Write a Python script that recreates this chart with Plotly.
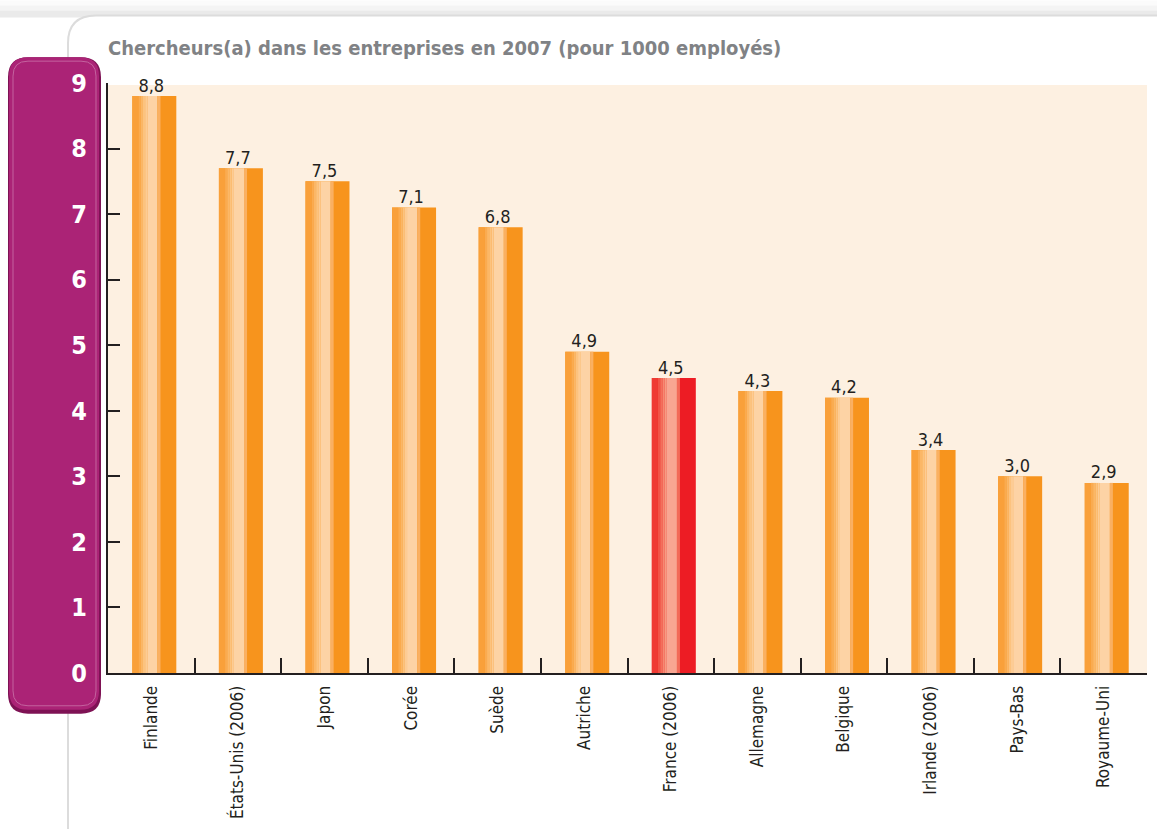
import plotly.graph_objects as go

categories = ["Finlande", "États-Unis (2006)", "Japon", "Corée", "Suède", "Autriche",
              "France (2006)", "Allemagne", "Belgique", "Irlande (2006)", "Pays-Bas", "Royaume-Uni"]
values = [8.8, 7.7, 7.5, 7.1, 6.8, 4.9, 4.5, 4.3, 4.2, 3.4, 3.0, 2.9]
highlight = "France (2006)"
title_text = "Chercheurs(a) dans les entreprises en 2007 (pour 1000 employés)"

W, H = 1157, 829
L, R, T, B = 108, 10, 83, 152
PW, PH = W - L - R, H - T - B

def px(x):
    return (x - L) / PW

def py(y):
    return (H - B - y) / PH

def rrect(x0, y0, x1, y1, r):
    p = lambda x, y: f"{px(x):.5f},{py(y):.5f}"
    return (f"M {p(x0 + r, y0)} L {p(x1 - r, y0)} Q {p(x1, y0)} {p(x1, y0 + r)} "
            f"L {p(x1, y1 - r)} Q {p(x1, y1)} {p(x1 - r, y1)} "
            f"L {p(x0 + r, y1)} Q {p(x0, y1)} {p(x0, y1 - r)} "
            f"L {p(x0, y0 + r)} Q {p(x0, y0)} {p(x0 + r, y0)} Z")

COND = "DejaVu Sans Condensed, sans-serif"

SH = 0.035
BW = 0.508
strips = [(-0.254, BW), (-0.254, 0.071), (-0.183, 0.026), (-0.157, 0.026), (-0.131, 0.025),
          (-0.106, 0.025), (-0.081, 0.117), (0.036, 0.035)]
orange = ["#F7941D", "#F9A03A", "#FAAB50", "#FBB767", "#FCC37F", "#FDCC94", "#FDD3A5", "#FAB062"]
red = ["#ED1C24", "#EF3A33", "#F15447", "#F3705C", "#F58A72", "#F69C82", "#F8A692", "#F26A58"]
is_hi = [c == highlight for c in categories]

fig = go.Figure()
for i, (off, w) in enumerate(strips):
    cols = [red[i] if h else orange[i] for h in is_hi]
    fig.add_trace(go.Bar(x=categories, y=values, offset=off + SH, width=w,
                         marker=dict(color=cols, line=dict(width=0)),
                         hoverinfo="skip", showlegend=False))

fig.add_trace(go.Scatter(x=categories, y=values, mode="text", texttemplate="%{y:.1f}",
                         textposition="top center", cliponaxis=False,
                         textfont=dict(family=COND, size=18, color="#231F20"),
                         hoverinfo="skip", showlegend=False))

shapes = []
for (ya, yb, c) in [(0, 5, "#FBFBFB"), (5, 10, "#F4F4F4"), (10, 17, "#EAEAEA")]:
    shapes.append(dict(type="rect", xref="paper", yref="paper", x0=px(0), x1=px(W),
                       y0=py(ya), y1=py(yb), fillcolor=c, line=dict(width=0), layer="below"))
shapes.append(dict(type="path", xref="paper", yref="paper", path=rrect(68, 15, 1200, 860, 28),
                   fillcolor="#FFFFFF", line=dict(color="#DCDCDC", width=2), layer="below"))
shapes.append(dict(type="rect", xref="paper", yref="paper", x0=0, x1=1, y0=0, y1=py(85),
                   fillcolor="#FDF0E1", line=dict(width=0), layer="below"))
shapes.append(dict(type="path", xref="paper", yref="paper", path=rrect(8, 57, 101, 718, 20),
                   fillcolor="#7E1254", line=dict(width=0), layer="below"))
shapes.append(dict(type="path", xref="paper", yref="paper", path=rrect(9, 57, 99, 714, 19),
                   fillcolor="#AB2376", line=dict(width=0), layer="below"))
shapes.append(dict(type="path", xref="paper", yref="paper", path=rrect(13, 61, 96, 710, 15),
                   fillcolor="rgba(0,0,0,0)", line=dict(color="#C4639F", width=1), layer="below"))

fig.update_layout(
    width=W, height=H,
    margin=dict(l=L, r=R, t=T, b=B),
    paper_bgcolor="#FFFFFF", plot_bgcolor="rgba(0,0,0,0)",
    barmode="overlay", separators=", ",
    shapes=shapes,
    annotations=[dict(text=title_text, xref="paper", yref="paper", x=px(106), y=py(48),
                      xanchor="left", yanchor="middle", showarrow=False,
                      font=dict(family=COND, size=20, color="#808285", weight="bold"))],
    xaxis=dict(range=[-0.5, 11.5], showgrid=False, zeroline=False, showline=True,
               linecolor="#231F20", linewidth=2, ticks="inside", ticklen=15,
               tickwidth=2, tickcolor="#231F20", tickson="boundaries",
               tickangle=-90, ticklabelstandoff=4,
               tickfont=dict(family=COND, size=17, color="#231F20")),
    yaxis=dict(range=[0, 9.0], dtick=1, tick0=0, showgrid=False, zeroline=False,
               showline=True, linecolor="#231F20", linewidth=2, ticks="inside",
               ticklen=12, tickwidth=2, tickcolor="#231F20", ticklabelstandoff=14,
               tickfont=dict(family=COND, size=25, color="#FFFFFF", weight="bold")),
)

fig.write_html("out.html", config={"displayModeBar": False},
               post_script="document.body.style.margin='0';document.body.style.overflow='hidden';")
